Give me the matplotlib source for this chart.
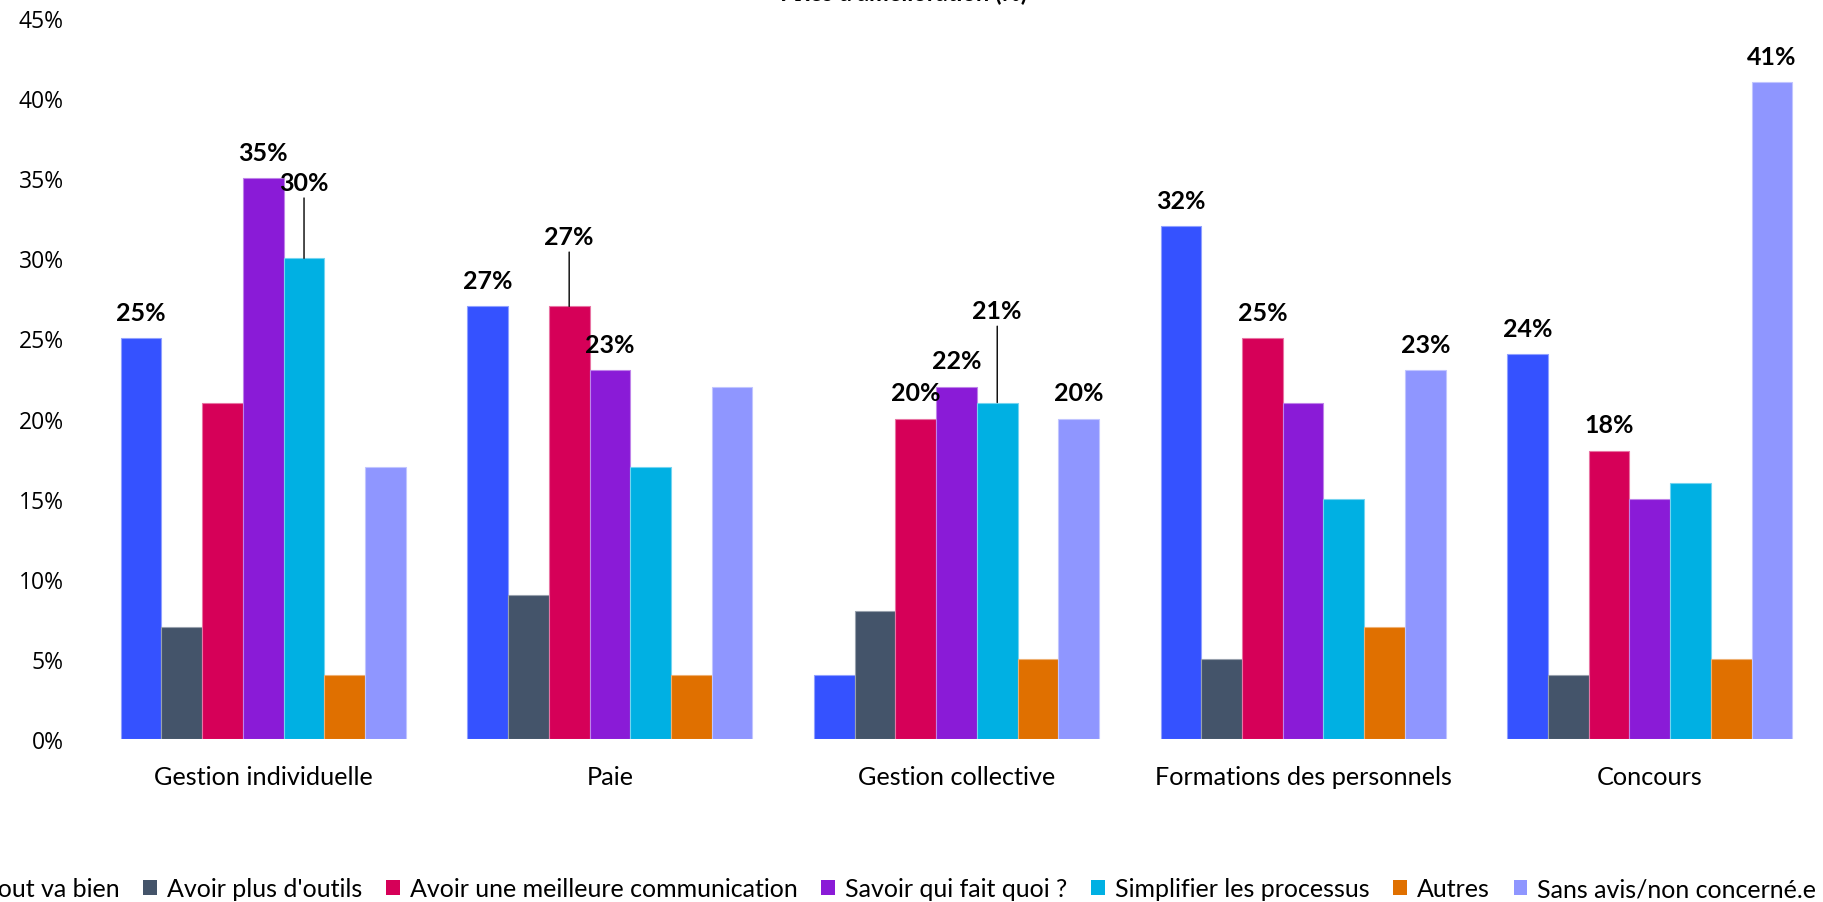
import matplotlib
matplotlib.use("Agg")
import matplotlib.pyplot as plt
import matplotlib.colors as mcolors
from matplotlib.patches import Patch
import numpy as np

# ---------------- data ----------------
categories = ["Gestion individuelle", "Paie", "Gestion collective",
              "Formations des personnels", "Concours"]
series_names = ["Tout va bien", "Avoir plus d'outils", "Avoir une meilleure communication",
                "Savoir qui fait quoi ?", "Simplifier les processus", "Autres",
                "Sans avis/non concerné.e"]
tout_va_bien = [25, 27, 4, 32, 24]
plus_outils = [7, 9, 8, 5, 4]
communication = [21, 27, 20, 25, 18]
qui_fait_quoi = [35, 23, 22, 21, 15]
simplifier = [30, 17, 21, 15, 16]
autres = [4, 4, 5, 7, 5]
sans_avis = [17, 22, 20, 23, 41]
values = [tout_va_bien, plus_outils, communication, qui_fait_quoi,
          simplifier, autres, sans_avis]
y_ticks = [0, 5, 10, 15, 20, 25, 30, 35, 40, 45]
title = "Axes d'amélioration (%)"

# which bars carry a value label (series index -> category indices)
labelled = {0: [0, 1, 3, 4], 2: [1, 2, 3, 4], 3: [0, 1, 2], 4: [0, 2], 6: [2, 3, 4]}
# labels lifted with a leader line (series, category) -> pixel offset
leader = {(4, 0): 76, (2, 1): 70, (4, 2): 92}

# ---------------- style ----------------
colors = ["#3552FF", "#44546A", "#D60058", "#8A1BD7", "#00B0E3", "#E07000", "#8F96FF"]
W, H = 1823, 903
fig = plt.figure(figsize=(W / 100, H / 100), dpi=100)
ax = fig.add_axes([90 / W, 1 - 740 / H, (W - 90) / W, (740 - 19) / H])

n = len(series_names)
bw = 0.1175
x = np.arange(len(categories))
for i, (vals, col) in enumerate(zip(values, colors)):
    edge = mcolors.to_rgb(col)
    edge = tuple(0.55 * c + 0.45 for c in edge)
    ax.bar(x + (i - (n - 1) / 2) * bw, vals, width=bw, color=col,
           edgecolor=edge, linewidth=0.8, label=series_names[i], zorder=2)

for i, cats in labelled.items():
    for j in cats:
        xi = x[j] + (i - (n - 1) / 2) * bw
        v = values[i][j]
        if (i, j) in leader:
            ax.annotate(f"{v}%", xy=(xi, v), xytext=(0, leader[(i, j)]),
                        textcoords="offset pixels", ha="center", va="center",
                        fontsize=18, fontweight="bold", family="Lato",
                        arrowprops=dict(arrowstyle="-", color="black", lw=1,
                                        shrinkA=1, shrinkB=0), zorder=3)
        else:
            ax.annotate(f"{v}%", xy=(xi, v), xytext=(0, 26),
                        textcoords="offset pixels", ha="center", va="center",
                        fontsize=18, fontweight="bold", family="Lato", zorder=3)

ax.set_xlim(-0.5, len(categories) - 0.5)
ax.set_ylim(0, 45)
ax.set_yticks(y_ticks)
ax.set_yticklabels([f"{t}%" for t in y_ticks], family="Open Sans", fontsize=16.5)
ax.set_xticks(x)
ax.set_xticklabels(categories, family="Lato", fontsize=18.2)
ax.tick_params(axis="y", length=0, pad=19)
ax.tick_params(axis="x", length=0, pad=19)
for s in ax.spines.values():
    s.set_visible(False)

fig.text(1027 / W, 1 - 1 / H, title, ha="right", va="baseline",
         fontsize=17, fontweight="bold", family="Lato")

handles = [Patch(facecolor=c, edgecolor="none") for c in colors]
fig.legend(handles, series_names, loc="center", bbox_to_anchor=(0.487, 1 - 890 / H),
           ncol=n, frameon=False, prop=dict(family="Lato", size=18.0),
           handlelength=0.55, handleheight=0.55, handletextpad=0.4,
           columnspacing=0.95, borderaxespad=0)

fig.savefig("out.png", dpi=100)
